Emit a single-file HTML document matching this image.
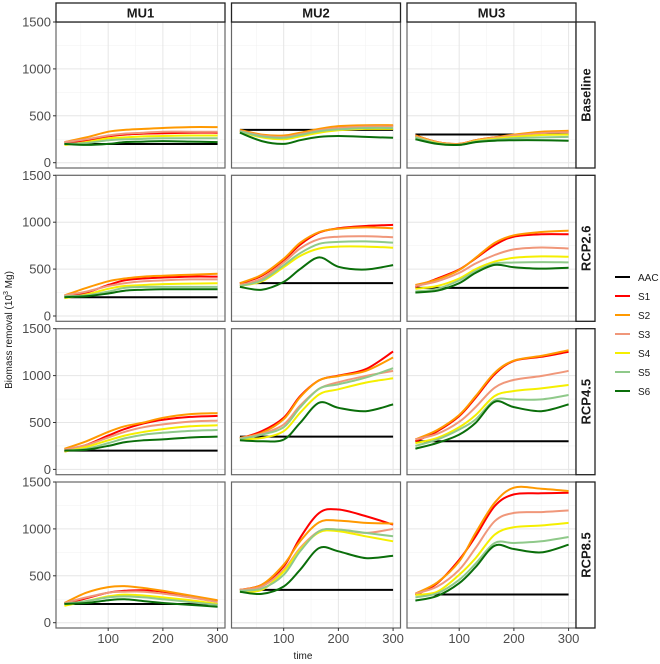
<!DOCTYPE html>
<html><head><meta charset="utf-8"><style>
body{margin:0;background:#fff;}
svg{display:block;font-family:"Liberation Sans",sans-serif;}
</style></head><body>
<svg id="chart" width="660" height="664" viewBox="0 0 660 664" xmlns="http://www.w3.org/2000/svg"></svg>
<script>
const columns = ["MU1","MU2","MU3"];
const rows = ["Baseline","RCP2.6","RCP4.5","RCP8.5"];
const seriesNames = ["AAC","S1","S2","S3","S4","S5","S6"];
const colors = ["#000000","#ff0000","#ff9900","#f0977a","#f5ef00","#8fc98a","#0a6e0a"];
const times = [20,60,100,130,165,200,250,300];
const aacValues = [200,350,300];
const xTicks = [100,200,300];
const yTicks = [0,500,1000,1500];
// data[row][col] = [S1..S6]
const baselineMU1 = [[210,240,280,300,310,315,320,320],[220,270,330,350,360,370,380,380],[220,250,290,310,320,330,330,330],[190,220,260,270,280,285,290,290],[200,210,240,250,255,260,260,260],[200,190,200,220,225,230,225,220]];
const baselineMU2 = [[340,290,280,310,350,380,395,395],[350,300,290,320,360,390,400,400],[340,290,275,305,345,370,385,385],[330,270,250,280,320,345,360,360],[335,280,265,295,335,355,370,370],[320,230,200,240,275,285,275,265]];
const baselineMU3 = [[290,220,200,240,270,290,320,330],[290,220,200,240,270,300,330,340],[280,215,195,235,265,290,315,325],[270,210,190,230,255,275,295,300],[270,205,190,225,245,260,270,275],[250,200,190,220,235,240,240,235]];
const rcp26MU1 = [[210,250,330,380,400,410,420,420],[220,300,370,400,420,430,440,450],[220,260,320,350,370,380,390,390],[190,230,290,320,330,340,345,350],[210,220,260,300,310,310,310,310],[200,210,240,270,280,285,285,285]];
const rcp26MU2 = [[346,430,596,760,890,935,960,971],[350,440,610,780,895,930,945,935],[330,400,570,720,820,845,850,840],[320,370,520,640,720,740,740,728],[320,380,540,670,770,790,795,782],[310,280,364,500,625,525,496,543]];
const rcp26MU3 = [[310,400,496,614,757,846,871,871],[330,390,490,620,780,860,895,910],[320,370,460,560,650,710,730,720],[290,320,400,500,580,620,635,632],[260,290,380,480,560,570,575,571],[250,270,350,460,545,520,505,515]];
const rcp45MU1 = [[190,260,360,430,490,530,560,570],[220,300,400,460,500,550,590,600],[210,260,340,400,450,480,510,520],[190,240,310,360,400,430,460,470],[200,220,280,330,370,390,410,420],[200,210,250,290,310,320,340,350]];
const rcp45MU2 = [[330,407,550,780,950,1000,1068,1257],[335,390,535,770,950,995,1050,1193],[330,380,479,680,860,930,996,1050],[320,335,407,603,800,854,925,971],[325,370,450,660,860,907,979,1079],[310,300,318,496,711,657,621,693]];
const rcp45MU3 = [[300,407,568,764,1014,1157,1200,1254],[320,420,580,780,1030,1160,1210,1271],[320,379,507,664,871,954,996,1050],[280,336,450,579,782,836,864,900],[250,318,425,532,739,745,746,793],[221,282,371,496,721,664,621,693]];
const rcp85MU1 = [[200,260,320,340,345,330,280,230],[210,320,380,390,370,340,290,240],[210,270,320,330,330,310,270,220],[180,230,280,300,290,270,240,200],[200,230,270,280,270,250,220,190],[200,210,240,250,230,210,190,170]];
const rcp85MU2 = [[350,404,600,904,1171,1207,1136,1046],[350,404,618,868,1071,1089,1064,1057],[350,386,564,796,975,993,957,1000],[330,350,546,779,964,975,921,868],[340,364,511,761,975,993,957,921],[330,307,386,564,796,761,689,714]];
const rcp85MU3 = [[296,421,671,921,1243,1368,1379,1386],[310,430,654,957,1279,1439,1429,1404],[310,386,564,796,1082,1171,1179,1196],[296,332,511,689,939,1018,1036,1064],[271,314,457,629,850,850,868,914],[236,286,421,593,821,786,750,832]];
const data = [[baselineMU1,baselineMU2,baselineMU3],[rcp26MU1,rcp26MU2,rcp26MU3],[rcp45MU1,rcp45MU2,rcp45MU3],[rcp85MU1,rcp85MU2,rcp85MU3]];

const NS="http://www.w3.org/2000/svg";
const svg=document.getElementById('chart');
function mk(tag,attrs,parent){const e=document.createElementNS(NS,tag);for(const k in attrs)e.setAttribute(k,attrs[k]);(parent||svg).appendChild(e);return e;}
const colLeft=[56,231.5,407], panelW=169;
const rowTop=[22,175.3,328.7,482], panelH=146;
const xMin=4.6, xScale=0.547;
function xPos(c,t){return colLeft[c]+(t-xMin)*xScale;}
function yPos(r,v){return rowTop[r]+140.7-v*0.0938;}
function pathFor(c,r,vals){
  const p=times.map((t,i)=>[xPos(c,t),yPos(r,vals[i])]);
  let d="M"+p[0][0].toFixed(1)+","+p[0][1].toFixed(1);
  for(let i=0;i<p.length-1;i++){
    const p0=p[Math.max(0,i-1)],p1=p[i],p2=p[i+1],p3=p[Math.min(p.length-1,i+2)];
    const c1=[p1[0]+(p2[0]-p0[0])/6,p1[1]+(p2[1]-p0[1])/6];
    const c2=[p2[0]-(p3[0]-p1[0])/6,p2[1]-(p3[1]-p1[1])/6];
    d+=" C"+c1[0].toFixed(1)+","+c1[1].toFixed(1)+" "+c2[0].toFixed(1)+","+c2[1].toFixed(1)+" "+p2[0].toFixed(1)+","+p2[1].toFixed(1);
  }
  return d;
}
for(let r=0;r<4;r++){
  for(let c=0;c<3;c++){
    const g=mk('g',{});
    
    
    const x0=colLeft[c],y0=rowTop[r];
    [250,750,1250].forEach(v=>mk('line',{x1:x0,x2:x0+panelW,y1:yPos(r,v),y2:yPos(r,v),stroke:'#f3f3f3','stroke-width':0.6},g));
    [50,150,250].forEach(t=>mk('line',{x1:xPos(c,t),x2:xPos(c,t),y1:y0,y2:y0+panelH,stroke:'#f3f3f3','stroke-width':0.6},g));
    yTicks.forEach(v=>mk('line',{x1:x0,x2:x0+panelW,y1:yPos(r,v),y2:yPos(r,v),stroke:'#e6e6e6','stroke-width':1},g));
    xTicks.forEach(t=>mk('line',{x1:xPos(c,t),x2:xPos(c,t),y1:y0,y2:y0+panelH,stroke:'#e6e6e6','stroke-width':1},g));
    const aac=mk('line',{x1:xPos(c,20),x2:xPos(c,300),y1:yPos(r,aacValues[c]),y2:yPos(r,aacValues[c]),stroke:colors[0],'stroke-width':2},g);
    
    
    data[r][c].forEach((vals,i)=>{
      const p=mk('path',{d:pathFor(c,r,vals),fill:'none',stroke:colors[i+1],'stroke-width':2},g);
      
      
    });
    mk('rect',{x:x0,y:y0,width:panelW,height:panelH,fill:'none',stroke:'#666','stroke-width':1.2},g);
    if(c===0){
      yTicks.forEach(v=>{
        mk('line',{x1:x0-3,x2:x0,y1:yPos(r,v),y2:yPos(r,v),stroke:'#333','stroke-width':1},g);
        const t=mk('text',{x:x0-5,y:yPos(r,v)+4.5,'text-anchor':'end','font-size':13,fill:'#4d4d4d'},g);
        t.textContent=v;
        
        
      });
    }
    if(r===3){
      xTicks.forEach(v=>{
        mk('line',{x1:xPos(c,v),x2:xPos(c,v),y1:y0+panelH,y2:y0+panelH+3,stroke:'#333','stroke-width':1},g);
        const t=mk('text',{x:xPos(c,v),y:y0+panelH+15,'text-anchor':'middle','font-size':13,fill:'#4d4d4d'},g);
        t.textContent=v;
        
        
      });
    }
    if(c===2){
      const s=mk('g',{});
      
      
      mk('rect',{x:576,y:y0,width:19,height:panelH,fill:'#fff',stroke:'#222','stroke-width':1.3},s);
      const t=mk('text',{x:590.5,y:y0+panelH/2,'text-anchor':'middle','font-size':13,'font-weight':'bold',fill:'#1a1a1a',transform:'rotate(-90 590.5 '+(y0+panelH/2)+')'},s);
      t.textContent=rows[r];
    }
  }
}
columns.forEach((name,c)=>{
  const s=mk('g',{});
  
  
  mk('rect',{x:colLeft[c],y:3,width:panelW,height:19,fill:'#fff',stroke:'#222','stroke-width':1.3},s);
  const t=mk('text',{x:colLeft[c]+panelW/2,y:17.5,'text-anchor':'middle','font-size':13,'font-weight':'bold',fill:'#1a1a1a'},s);
  t.textContent=name;
});
const xt=mk('text',{x:303,y:659,'text-anchor':'middle','font-size':10,fill:'#1a1a1a'});
xt.textContent='time';


const yt=mk('text',{x:12,y:330,'text-anchor':'middle','font-size':10,fill:'#1a1a1a',transform:'rotate(-90 12 330)'});


yt.innerHTML='Biomass removal (10<tspan dy="-4" font-size="7">3</tspan><tspan dy="4"> Mg)</tspan>';
seriesNames.forEach((n,i)=>{
  const g=mk('g',{});
  
  
  const y=277+i*19;
  mk('line',{x1:615,x2:630,y1:y,y2:y,stroke:colors[i],'stroke-width':2},g);
  const t=mk('text',{x:638,y:y+4,'font-size':10,fill:'#1a1a1a'},g);
  t.textContent=n;
});
</script>
</body></html>
